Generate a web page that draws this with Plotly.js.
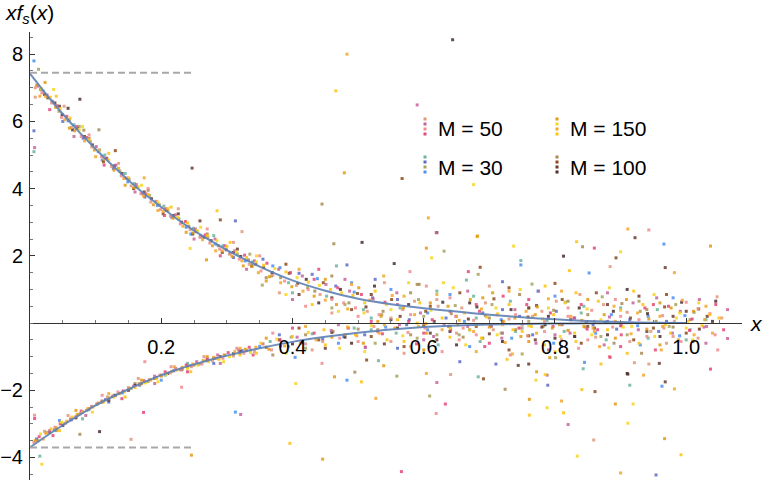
<!DOCTYPE html>
<html>
<head>
<meta charset="utf-8">
<script src="https://cdn.plot.ly/plotly-3.0.1.min.js"></script>
<style>
  html, body { margin: 0; padding: 0; background: #fff; }
  #chart { width: 763px; height: 482px; }
</style>
</head>
<body>
<div id="chart"></div>
<script>
// fitted curves
let curveX = [0, 0.025, 0.05, 0.075, 0.1, 0.125, 0.15, 0.175, 0.2, 0.225, 0.25, 0.275, 0.3, 0.35, 0.4, 0.45, 0.5, 0.55, 0.6, 0.65, 0.7, 0.75, 0.8, 0.85, 0.9, 0.95, 1.0];
let upperY = [7.42, 6.8, 6.22, 5.68, 5.18, 4.7, 4.25, 3.83, 3.45, 3.08, 2.75, 2.45, 2.17, 1.68, 1.27, 0.96, 0.72, 0.56, 0.44, 0.34, 0.25, 0.17, 0.11, 0.06, 0.03, 0.01, 0];
let lowerY = [-3.7, -3.36, -3.04, -2.74, -2.45, -2.2, -1.97, -1.75, -1.55, -1.38, -1.23, -1.09, -0.97, -0.75, -0.56, -0.41, -0.29, -0.19, -0.12, -0.075, -0.045, -0.025, -0.014, -0.007, -0.003, -0.001, 0];

// dashed limit lines
let dashX = [0, 0.25];
let topLimit = 7.45;
let bottomLimit = -3.7;

let xTicks = [0.2, 0.4, 0.6, 0.8, 1.0];
let xTickText = ['0.2', '0.4', '0.6', '0.8', '1.0'];
let yTicks = [-4, -2, 2, 4, 6, 8];
let yTickText = ['\u22124', '\u22122', '2', '4', '6', '8'];

let legendNames = ['M = 50', 'M = 150', 'M = 30', 'M = 100'];

// scatter points [x, y]
let m50 = [
  [0.008,6.72],[0.012,7.05],[0.018,6.85],[0.026,6.78],[0.033,6.55],[0.041,6.47],[0.048,6.12],[0.056,6.15],[0.063,5.82],[0.071,5.85],
  [0.078,5.55],[0.086,5.52],[0.094,5.24],[0.101,5.25],[0.109,4.95],[0.116,4.9],[0.124,4.66],[0.131,4.7],[0.139,4.38],[0.147,4.31],
  [0.154,4.08],[0.162,4.12],[0.169,3.85],[0.177,3.84],[0.184,3.6],[0.192,3.62],[0.199,3.38],[0.207,3.4],[0.214,3.18],[0.222,3.22],
  [0.229,2.95],[0.237,3.02],[0.244,2.78],[0.252,2.8],[0.259,2.55],[0.267,2.62],[0.274,2.38],[0.282,2.5],[0.289,2.2],[0.297,2.3],
  [0.304,2.05],[0.312,2.15],[0.319,1.9],[0.327,2.02],[0.334,1.75],[0.342,1.85],
  [0.352,1.55],[0.361,1.78],[0.37,1.42],[0.379,1.6],[0.388,1.25],[0.397,1.5],[0.406,1.12],[0.415,1.4],[0.424,1.0],[0.433,1.3],
  [0.442,0.85],[0.451,1.15],[0.46,0.7],[0.469,1.05],[0.478,0.6],[0.487,0.95],[0.496,0.45],[0.505,0.85],[0.514,0.35],[0.523,0.72],
  [0.532,0.25],[0.541,0.62],[0.55,0.15],[0.559,0.9],[0.568,0.4],[0.577,0.05],[0.586,0.65],[0.595,0.3],[0.604,1.1],[0.613,0.1],
  [0.622,0.5],[0.631,-0.05],[0.64,0.75],[0.649,0.2],[0.658,0.45],[0.667,0.95],[0.676,0.08],[0.685,0.35],[0.694,0.6],[0.703,-0.1],
  [0.712,0.25],[0.721,0.8],[0.73,0.12],[0.739,0.4],[0.748,-0.15],[0.757,0.55],[0.766,0.2],[0.775,0.95],[0.784,0.05],[0.793,0.3],
  [0.802,0.65],[0.811,-0.05],[0.82,0.45],[0.829,0.15],[0.838,0.85],[0.847,0.02],[0.856,0.38],[0.865,-0.2],[0.874,0.55],[0.883,0.18],
  [0.892,0.7],[0.901,-0.08],[0.91,0.32],[0.919,0.6],[0.928,0.1],[0.937,0.45],[0.946,-0.25],[0.955,0.75],[0.964,0.22],[0.973,0.5],
  [0.982,0.05],[0.991,0.35],[1.0,0.62],[1.009,0.12],[1.018,0.42],[1.027,-0.12],[1.036,0.28],[1.045,0.55],[1.054,0.15],[1.063,0.4],
  [0.006,-3.55],[0.014,-3.38],[0.022,-3.22],[0.03,-3.2],[0.038,-3.1],[0.046,-3.0],[0.054,-2.98],[0.062,-2.85],[0.07,-2.78],[0.078,-2.62],
  [0.086,-2.6],[0.094,-2.48],[0.102,-2.4],[0.11,-2.32],[0.118,-2.2],[0.126,-2.18],[0.134,-2.05],[0.142,-2.02],[0.15,-1.92],[0.158,-1.88],
  [0.166,-1.8],[0.174,-1.72],[0.182,-1.68],[0.19,-1.58],[0.198,-1.55],[0.206,-1.45],[0.214,-1.48],[0.222,-1.35],[0.23,-1.4],[0.238,-1.25],
  [0.246,-1.3],[0.254,-1.15],[0.262,-1.22],[0.27,-1.05],[0.278,-1.12],[0.286,-0.95],[0.294,-1.05],[0.302,-0.88],[0.31,-0.98],[0.318,-0.8],
  [0.326,-0.9],[0.334,-0.72],[0.342,-0.85],
  [0.355,-0.62],[0.368,-0.8],[0.381,-0.5],[0.394,-0.7],[0.407,-0.42],[0.42,-0.62],[0.433,-0.3],[0.446,-0.55],[0.459,-0.22],[0.472,-0.45],
  [0.485,-0.15],[0.498,-0.38],[0.511,-0.72],[0.524,-0.1],[0.537,-0.32],[0.55,-0.55],[0.563,-0.05],[0.576,-0.28],[0.589,-0.62],[0.602,-0.15],
  [0.615,-0.4],[0.628,-0.85],[0.641,-0.2],[0.654,-0.5],[0.667,-0.1],[0.68,-0.35],[0.693,-0.7],[0.706,-0.2],[0.719,-0.45],[0.732,-0.95],
  [0.745,-0.15],[0.758,-0.38],[0.771,-0.6],[0.784,-0.25],[0.797,-0.1],[0.81,-0.5],[0.823,-0.3],[0.836,-0.75],[0.849,-0.18],[0.862,-0.42],
  [0.875,-0.65],[0.888,-0.12],[0.901,-0.35],[0.914,-0.55],[0.927,-0.2],[0.94,-0.4],[0.953,-0.8],[0.966,-0.15],[0.979,-0.3],[0.992,-0.55],
  [1.005,-0.22],[1.018,-0.45],[1.031,-0.1],[1.044,-0.35],[1.057,-0.2],
  [0.008,7.0],[0.007,5.22],[0.007,-2.74],[0.007,-2.84],[0.323,2.72],[0.59,6.49],[0.943,2.77],[0.86,2.23],[0.884,1.68],[0.619,2.69],
  [0.579,1.53],[0.668,1.53],[1.047,0.78],[1.063,-0.46],[1.048,-0.8],[1.037,-1.37],[0.921,-1.18],[0.788,-1.55],[0.883,-1.0],[0.566,-4.42],
  [0.859,-3.48],[0.82,-3.02],[0.619,-2.69],[0.633,-2.41],[0.641,-1.53],[0.62,-1.77],[0.445,-1.2],[0.884,-1.02],[0.943,-1.22],[0.511,-0.72],
  [0.175,-1.15],[0.173,-2.66],[0.154,-3.46],[0.321,-2.72],[0.231,-1.91]
];
let m50More = [
  [0.03,6.35],[0.052,6.45],[0.067,5.55],[0.09,5.6],[0.113,4.7],[0.135,4.75],[0.16,3.9],[0.18,4.0],[0.205,3.2],[0.226,3.4],
  [0.25,2.5],[0.27,2.8],[0.29,2.0],[0.31,2.4],[0.33,1.6],[0.35,2.0],
  [0.035,-3.35],[0.058,-2.75],[0.085,-2.75],[0.11,-2.15],[0.14,-2.25],[0.165,-1.65],[0.19,-1.8],[0.215,-1.3],[0.24,-1.45],[0.265,-1.0],
  [0.29,-1.2],[0.315,-0.75],[0.34,-0.95],
  [0.38,0.9],[0.4,0.7],[0.42,0.5],[0.44,1.6],[0.46,0.3],[0.48,1.3],[0.5,0.2],[0.52,0.05],[0.54,1.2],[0.56,0.55],
  [0.58,0.25],[0.6,-0.3],[0.62,0.7],[0.64,0.35],[0.66,-0.15],[0.68,0.55],[0.7,1.1],[0.72,-0.3],[0.74,0.25],[0.76,0.7],
  [0.78,0.35],[0.8,-0.35],[0.82,0.2],[0.84,0.55],[0.86,0.05],[0.88,0.9],[0.9,0.2],[0.95,0.55],[0.98,-0.4],[1.02,0.7],
  [0.37,-0.3],[0.4,-0.15],[0.43,-0.8],[0.47,-0.05],[0.5,-0.55],[0.53,-0.25],[0.57,-0.9],[0.6,-0.5],[0.65,-0.3],[0.7,-0.6],
  [0.75,-0.05],[0.79,-0.8],[0.85,-0.5],[0.9,-0.7],[0.97,-0.6],[1.03,-0.6]
];

let m150 = [
  [0.01,7.08],[0.017,6.98],[0.024,6.74],[0.031,6.72],[0.039,6.42],[0.046,6.38],[0.053,6.05],[0.061,6.1],[0.068,5.72],[0.075,5.75],
  [0.083,5.42],[0.09,5.45],[0.098,5.15],[0.105,5.12],[0.113,4.88],[0.12,4.85],[0.128,4.55],[0.135,4.6],[0.143,4.3],[0.15,4.32],
  [0.158,4.02],[0.165,4.05],[0.173,3.78],[0.18,3.82],[0.188,3.52],[0.195,3.6],[0.203,3.32],[0.21,3.4],[0.218,3.12],[0.225,3.15],
  [0.233,2.88],[0.24,2.98],[0.248,2.68],[0.255,2.75],[0.263,2.48],[0.27,2.6],[0.278,2.3],[0.285,2.45],[0.293,2.15],[0.3,2.28],
  [0.308,1.98],[0.315,2.12],[0.323,1.85],[0.33,1.95],[0.338,1.68],[0.345,1.82],
  [0.348,1.5],[0.356,1.72],[0.365,1.38],[0.373,1.62],[0.382,1.2],[0.39,1.52],[0.399,1.08],[0.407,1.35],[0.416,0.95],[0.424,1.22],
  [0.433,0.8],[0.441,1.12],[0.45,0.68],[0.458,1.0],[0.467,0.55],[0.475,0.9],[0.484,0.42],[0.492,0.82],[0.501,1.05],[0.509,0.3],
  [0.518,0.68],[0.526,0.95],[0.535,0.2],[0.543,0.55],[0.552,0.82],[0.56,0.1],[0.569,0.45],[0.577,1.2],[0.586,0.25],[0.594,0.6],
  [0.603,-0.02],[0.611,0.38],[0.62,0.85],[0.628,0.15],[0.637,0.5],[0.645,1.05],[0.654,0.08],[0.662,0.3],[0.671,0.7],[0.679,-0.05],
  [0.688,0.42],[0.696,0.18],[0.705,0.9],[0.713,0.28],[0.722,0.05],[0.73,0.55],[0.739,0.15],[0.747,1.0],[0.756,0.35],[0.764,-0.1],
  [0.773,0.48],[0.781,0.12],[0.79,0.72],[0.798,0.25],[0.807,-0.05],[0.815,0.6],[0.824,0.2],[0.832,0.9],[0.841,0.08],[0.849,0.42],
  [0.858,-0.15],[0.866,0.65],[0.875,0.25],[0.883,1.05],[0.892,0.05],[0.9,0.38],[0.909,0.7],[0.917,-0.1],[0.926,0.3],[0.934,0.55],
  [0.943,0.12],[0.951,0.85],[0.96,0.2],[0.968,-0.05],[0.977,0.45],[0.985,0.15],[0.994,0.68],[1.002,0.05],[1.011,0.35],[1.019,0.6],
  [1.028,0.1],[1.036,0.25],
  [0.008,-3.5],[0.016,-3.3],[0.024,-3.28],[0.032,-3.15],[0.04,-3.12],[0.048,-2.95],[0.056,-2.92],[0.064,-2.8],[0.072,-2.72],[0.08,-2.65],
  [0.088,-2.55],[0.096,-2.5],[0.104,-2.38],[0.112,-2.35],[0.12,-2.22],[0.128,-2.2],[0.136,-2.1],[0.144,-2.05],[0.152,-1.95],[0.16,-1.92],
  [0.168,-1.82],[0.176,-1.78],[0.184,-1.7],[0.192,-1.65],[0.2,-1.58],[0.208,-1.52],[0.216,-1.44],[0.224,-1.4],[0.232,-1.32],[0.24,-1.35],
  [0.248,-1.22],[0.256,-1.25],[0.264,-1.12],[0.272,-1.15],[0.28,-1.02],[0.288,-1.08],[0.296,-0.95],[0.304,-1.0],[0.312,-0.85],[0.32,-0.95],
  [0.328,-0.78],[0.336,-0.88],[0.344,-0.72],
  [0.352,-0.6],[0.364,-0.78],[0.376,-0.48],[0.388,-0.68],[0.4,-0.4],[0.412,-0.6],[0.424,-0.28],[0.436,-0.5],[0.448,-0.2],[0.46,-0.42],
  [0.472,-0.75],[0.484,-0.12],[0.496,-0.35],[0.508,-0.6],[0.52,-0.08],[0.532,-0.3],[0.544,-0.5],[0.556,-0.15],[0.568,-0.38],[0.58,-0.7],
  [0.592,-0.1],[0.604,-0.3],[0.616,-0.55],[0.628,-0.2],[0.64,-0.42],[0.652,-0.05],[0.664,-0.65],[0.676,-0.25],[0.688,-0.45],[0.7,-0.12],
  [0.712,-0.35],[0.724,-0.58],[0.736,-0.2],[0.748,-0.4],[0.76,-0.08],[0.772,-0.3],[0.784,-0.65],[0.796,-0.15],[0.808,-0.4],[0.82,-0.22],
  [0.832,-0.55],[0.844,-0.1],[0.856,-0.35],[0.868,-0.7],[0.88,-0.2],[0.892,-0.45],[0.904,-0.12],[0.916,-0.32],[0.928,-0.6],[0.94,-0.18],
  [0.952,-0.4],[0.964,-0.1],[0.976,-0.3],[0.988,-0.5],[1.0,-0.15],[1.012,-0.35],[1.024,-0.08],
  [0.023,7.16],[0.036,6.95],[0.174,4.32],[0.285,3.34],[0.269,1.88],[0.244,2.22],[0.483,8.0],[0.466,6.91],[0.479,4.47],[0.676,4.12],
  [0.607,3.13],[0.681,2.57],[0.604,2.23],[0.612,1.94],[0.911,2.8],[0.833,2.42],[1.037,2.29],[0.9,2.12],[0.982,1.5],[0.822,1.56],
  [0.682,2.59],[0.737,2.29],[0.539,1.4],[0.785,1.1],[0.792,-1.03],[0.882,-0.74],[0.935,-1.55],[0.396,-3.58],[0.446,-4.05],[0.834,-3.96],
  [0.9,-4.46],[0.992,-3.92],[0.967,-3.44],[0.911,-2.98],[0.527,-2.24],[0.761,-2.74],[0.761,-2.27],[0.788,-2.52],[0.81,-2.32],[0.813,-2.67],
  [0.892,-2.41],[0.919,-2.41],[0.982,-1.96],[0.841,-1.98],[0.772,-1.45],[0.771,-1.7],[0.604,-1.5],[0.505,-1.75],[0.464,-1.6],[0.405,-1.8],
  [0.735,-0.92],[0.727,-1.08],[0.539,-1.27],[0.785,-1.53],[0.962,-0.8],[0.87,-1.22],[0.246,-3.93],[0.018,-4.2]
];
let m150More = [
  [0.015,6.75],[0.04,6.75],[0.06,5.8],[0.08,5.85],[0.1,4.95],[0.12,5.05],[0.145,4.1],[0.17,4.1],[0.195,3.35],[0.215,3.45],
  [0.238,2.7],[0.26,2.85],[0.283,2.15],[0.305,2.4],[0.325,1.7],[0.345,2.0],
  [0.02,-3.45],[0.045,-3.2],[0.07,-2.6],[0.095,-2.65],[0.12,-2.1],[0.145,-2.2],[0.17,-1.7],[0.195,-1.75],[0.22,-1.3],[0.245,-1.45],
  [0.27,-1.0],[0.295,-1.15],[0.32,-0.75],[0.345,-0.9],
  [0.36,1.25],[0.39,0.85],[0.41,1.6],[0.43,0.55],[0.45,1.3],[0.47,0.35],[0.49,1.15],[0.51,0.6],[0.53,0.05],[0.55,0.4],
  [0.57,0.8],[0.59,0.0],[0.61,0.6],[0.63,1.2],[0.65,0.2],[0.67,-0.2],[0.69,0.75],[0.71,0.45],[0.73,0.95],[0.75,-0.25],
  [0.77,0.25],[0.79,0.45],[0.81,0.95],[0.83,-0.3],[0.85,0.7],[0.87,0.1],[0.89,0.5],[0.92,0.95],[0.96,0.6],[0.99,0.3],
  [1.03,0.5],[1.05,0.15],
  [0.36,-0.45],[0.39,-0.9],[0.42,-0.1],[0.45,-0.65],[0.48,-0.35],[0.51,-0.85],[0.54,-0.05],[0.57,-0.55],[0.6,-0.8],[0.64,-0.15],
  [0.68,-0.85],[0.72,-0.05],[0.76,-0.55],[0.8,-0.85],[0.86,-0.25],[0.91,-0.9],[0.96,-0.65],[1.01,-0.5],[1.04,-0.3]
];

let m30 = [
  [0.02,6.9],[0.034,6.6],[0.044,6.3],[0.058,6.02],[0.067,5.9],[0.081,5.5],[0.092,5.4],[0.104,5.1],[0.114,5.0],[0.127,4.6],
  [0.137,4.52],[0.149,4.2],[0.159,4.15],[0.171,3.85],[0.182,3.8],[0.194,3.5],[0.204,3.48],[0.216,3.15],[0.227,3.1],[0.238,2.85],
  [0.249,2.82],[0.26,2.58],[0.271,2.55],[0.283,2.35],[0.294,2.3],[0.305,2.08],[0.316,2.05],[0.328,1.85],[0.339,1.82],
  [0.355,1.9],[0.368,1.4],[0.381,1.65],[0.394,1.2],[0.41,1.48],[0.423,1.05],[0.438,1.32],[0.452,0.8],[0.466,1.1],[0.48,0.55],
  [0.494,0.92],[0.508,0.4],[0.522,0.75],[0.536,0.25],[0.55,1.0],[0.564,0.45],[0.578,0.1],[0.592,0.7],[0.606,0.3],[0.62,0.95],
  [0.634,0.15],[0.648,0.52],[0.662,0.05],[0.676,0.8],[0.69,0.3],[0.704,0.55],[0.718,0.1],[0.732,0.65],[0.746,0.2],[0.76,0.45],
  [0.774,0.95],[0.788,0.08],[0.802,0.35],[0.816,0.62],[0.83,0.15],[0.844,0.5],[0.858,-0.05],[0.872,0.78],[0.886,0.25],[0.9,0.45],
  [0.914,0.1],[0.928,0.65],[0.942,0.2],[0.956,0.4],[0.97,0.05],[0.984,0.55],[0.998,0.22],[1.012,0.32],
  [0.01,-3.45],[0.025,-3.25],[0.037,-3.18],[0.05,-3.0],[0.063,-2.88],[0.076,-2.7],[0.089,-2.58],[0.102,-2.42],[0.115,-2.28],[0.128,-2.15],
  [0.141,-2.08],[0.154,-1.95],[0.167,-1.85],[0.18,-1.74],[0.193,-1.62],[0.206,-1.55],[0.219,-1.42],[0.232,-1.38],[0.245,-1.27],[0.258,-1.22],
  [0.271,-1.1],[0.284,-1.05],[0.297,-0.96],[0.31,-0.92],[0.323,-0.82],[0.336,-0.8],
  [0.35,-0.7],[0.366,-0.55],[0.382,-0.68],[0.398,-0.42],[0.414,-0.58],[0.43,-0.32],[0.446,-0.48],[0.462,-0.25],[0.478,-0.4],[0.494,-0.15],
  [0.51,-0.35],[0.526,-0.6],[0.542,-0.12],[0.558,-0.3],[0.574,-0.05],[0.59,-0.45],[0.606,-0.2],[0.622,-0.65],[0.638,-0.1],[0.654,-0.35],
  [0.67,-0.2],[0.686,-0.55],[0.702,-0.08],[0.718,-0.3],[0.734,-0.45],[0.75,-0.15],[0.766,-0.35],[0.782,-0.1],[0.798,-0.6],[0.814,-0.25],
  [0.83,-0.4],[0.846,-0.12],[0.862,-0.3],[0.878,-0.5],[0.894,-0.18],[0.91,-0.35],[0.926,-0.08],[0.942,-0.45],[0.958,-0.25],[0.974,-0.1],
  [0.99,-0.38],[1.006,-0.2],
  [0.006,5.72],[0.013,7.55],[0.006,7.8],[0.006,5.1],[0.313,3.04],[0.631,2.14],[0.966,2.35],[0.665,1.28],[0.72,1.23],[0.765,1.16],
  [0.748,1.73],[0.748,1.86],[0.526,1.3],[0.683,1.45],[0.852,1.49],[0.467,1.7],[0.483,1.73],[0.354,1.13],[0.404,-1.02],[0.843,-1.36],
  [0.954,-4.52],[0.609,-2.17],[0.963,-1.88],[0.914,-1.85],[0.789,-1.85],[0.559,-1.58],[0.483,-1.7],[0.683,-1.6],[0.71,-1.22],[0.801,-1.03],
  [0.845,-1.17],[0.531,-1.12],[0.655,-1.15],[0.75,-0.92],[0.313,-2.65],[0.015,-3.96]
];
let m30More = [
  [0.05,6.0],[0.075,5.85],[0.11,4.85],[0.145,4.45],[0.175,3.75],[0.21,3.35],[0.245,2.65],[0.28,2.6],[0.31,1.95],[0.335,2.05],
  [0.045,-2.9],[0.08,-2.85],[0.12,-2.35],[0.16,-1.8],[0.2,-1.7],[0.24,-1.2],[0.28,-1.2],[0.32,-0.9],
  [0.37,1.7],[0.4,0.9],[0.43,1.45],[0.46,0.45],[0.49,1.2],[0.52,0.15],[0.56,0.7],[0.6,0.2],[0.64,0.85],[0.68,0.15],
  [0.72,0.4],[0.76,0.05],[0.8,0.8],[0.84,0.3],[0.88,0.05],[0.93,0.35],[0.98,0.75],[1.03,0.1],
  [0.38,-0.35],[0.42,-0.75],[0.47,-0.6],[0.52,-0.2],[0.56,-0.75],[0.62,-0.35],[0.67,-0.7],[0.74,-0.25],[0.81,-0.7],[0.87,-0.4],
  [0.93,-0.65],[1.0,-0.5]
];

let m100 = [
  [0.016,6.95],[0.027,6.7],[0.038,6.55],[0.049,6.2],[0.06,6.05],[0.072,5.8],[0.083,5.55],[0.095,5.3],[0.106,5.15],[0.117,4.9],
  [0.129,4.68],[0.14,4.45],[0.151,4.28],[0.163,4.05],[0.174,3.9],[0.185,3.7],[0.197,3.52],[0.208,3.35],[0.219,3.2],[0.231,3.0],
  [0.242,2.88],[0.253,2.72],[0.265,2.55],[0.276,2.45],[0.287,2.3],[0.299,2.18],[0.31,2.1],[0.321,1.98],[0.333,1.88],[0.344,1.75],
  [0.356,1.65],[0.369,1.5],[0.382,1.35],[0.395,1.48],[0.408,1.18],[0.421,1.3],[0.434,0.95],[0.447,1.2],[0.46,0.75],[0.473,1.0],
  [0.486,0.6],[0.499,0.88],[0.512,0.48],[0.525,1.1],[0.538,0.35],[0.551,0.7],[0.564,0.2],[0.577,0.55],[0.59,1.15],[0.603,0.35],
  [0.616,0.05],[0.629,0.62],[0.642,0.28],[0.655,0.9],[0.668,0.12],[0.681,0.48],[0.694,0.22],[0.707,0.72],[0.72,0.05],[0.733,0.4],
  [0.746,0.85],[0.759,0.18],[0.772,0.52],[0.785,-0.05],[0.798,0.38],[0.811,0.7],[0.824,0.1],[0.837,0.45],[0.85,0.25],[0.863,0.9],
  [0.876,0.02],[0.889,0.35],[0.902,0.58],[0.915,0.15],[0.928,0.8],[0.941,0.28],[0.954,0.05],[0.967,0.48],[0.98,0.2],[0.993,0.62],
  [1.006,0.1],[1.019,0.42],[1.032,0.2],[1.045,0.65],
  [0.012,-3.5],[0.03,-3.25],[0.05,-3.05],[0.07,-2.82],[0.09,-2.55],[0.11,-2.35],[0.13,-2.15],[0.15,-2.0],[0.17,-1.8],[0.19,-1.65],
  [0.21,-1.5],[0.23,-1.38],[0.25,-1.25],[0.27,-1.12],[0.29,-1.0],[0.31,-0.92],[0.33,-0.82],
  [0.36,-0.72],[0.38,-0.5],[0.4,-0.62],[0.42,-0.35],[0.44,-0.5],[0.46,-0.28],[0.48,-0.42],[0.5,-0.18],[0.52,-0.4],[0.54,-0.62],
  [0.56,-0.15],[0.58,-0.35],[0.6,-0.08],[0.62,-0.5],[0.64,-0.25],[0.66,-0.42],[0.68,-0.1],[0.7,-0.32],[0.72,-0.55],[0.74,-0.2],
  [0.76,-0.38],[0.78,-0.12],[0.8,-0.45],[0.82,-0.22],[0.84,-0.6],[0.86,-0.15],[0.88,-0.35],[0.9,-0.08],[0.92,-0.5],[0.94,-0.25],
  [0.96,-0.4],[0.98,-0.12],[1.0,-0.3],[1.02,-0.18],
  [0.076,6.66],[0.105,5.75],[0.13,5.13],[0.247,4.61],[0.058,6.39],[0.082,5.74],[0.29,3.07],[0.259,3.04],[0.644,8.43],[0.445,3.54],
  [0.567,4.3],[0.62,2.69],[0.506,2.4],[0.463,2.36],[0.686,1.66],[0.922,2.54],[0.813,1.99],[0.842,2.27],[0.893,1.94],[0.968,1.65],
  [0.555,1.77],[0.593,1.15],[0.8,1.18],[0.959,-1.2],[0.911,-1.52],[0.724,-1.97],[0.861,-2.04],[0.968,-1.75],[0.91,-1.5],[0.495,-1.46],
  [0.691,-1.66],[0.744,-1.26],[0.82,-1.0],[0.932,-0.9],[0.513,-1.1],[0.76,-1.22],[0.106,-3.23],[0.076,-3.31]
];
let m100More = [
  [0.022,6.8],[0.045,6.45],[0.065,5.75],[0.09,5.5],[0.112,4.8],[0.135,4.6],[0.158,4.0],[0.18,3.95],[0.203,3.25],[0.226,3.25],
  [0.248,2.65],[0.27,2.65],[0.293,2.1],[0.316,2.2],[0.338,1.7],
  [0.04,-3.2],[0.08,-2.65],[0.12,-2.3],[0.16,-1.85],[0.2,-1.55],[0.24,-1.3],[0.28,-1.05],[0.32,-0.85],
  [0.36,1.35],[0.39,1.75],[0.41,0.85],[0.44,0.6],[0.46,1.4],[0.49,0.4],[0.52,0.85],[0.55,0.1],[0.58,0.9],[0.61,0.5],
  [0.64,-0.1],[0.67,0.6],[0.7,0.15],[0.73,1.05],[0.76,0.45],[0.79,0.2],[0.82,0.65],[0.85,-0.1],[0.88,0.55],[0.91,1.0],
  [0.94,0.4],[0.97,0.85],[1.0,0.35],[1.04,0.05],
  [0.37,-0.95],[0.41,-0.15],[0.45,-0.75],[0.49,-0.6],[0.53,-0.2],[0.57,-0.7],[0.61,-0.3],[0.65,-0.65],[0.69,-0.45],[0.73,-0.8],
  [0.77,-0.5],[0.83,-0.4],[0.89,-0.6],[0.95,-0.15],[1.01,-0.55]
];

// four shades per group, as in the legend swatches
let m50Colors = ['#e2967c', '#c4649c', '#f28a8c', '#e6457a'];
let m150Colors = ['#e29a12', '#f7d51e', '#f4a62a', '#ffc20e'];
let m30Colors = ['#6ab49a', '#5a6cc6', '#a6a35c', '#4a8ff2'];
let m100Colors = ['#a88b52', '#8c4a1e', '#6b3b2b', '#4b2e2e'];

// plot area in pixels: left 30, right 742, top 32, bottom 480
function px2paperX(px) { return (px - 30) / 712; }
function px2paperY(py) { return (480 - py) / 448; }

function pointsTrace(points, colors) {
  return {
    x: points.map(p => p[0]),
    y: points.map(p => p[1]),
    type: 'scatter',
    mode: 'markers',
    marker: {
      symbol: 'square',
      size: 3,
      opacity: 0.85,
      color: points.map((p, i) => colors[i % colors.length])
    },
    hoverinfo: 'skip',
    showlegend: false
  };
}

function lineTrace(x, y, color, dash) {
  return {
    x: x,
    y: y,
    type: 'scatter',
    mode: 'lines',
    line: { color: color, width: 2, dash: dash, shape: 'spline', smoothing: 0.6 },
    hoverinfo: 'skip',
    showlegend: false
  };
}

function plotChart() {
  let traces = [
    pointsTrace(m30.concat(m30More), m30Colors),
    pointsTrace(m100.concat(m100More), m100Colors),
    pointsTrace(m50.concat(m50More), m50Colors),
    pointsTrace(m150.concat(m150More), m150Colors),
    lineTrace(curveX, upperY, 'rgba(94,129,181,0.9)', 'solid'),
    lineTrace(curveX, lowerY, 'rgba(94,129,181,0.9)', 'solid'),
    lineTrace(dashX, [topLimit, topLimit], '#a8a8a8', '7px,4px'),
    lineTrace(dashX, [bottomLimit, bottomLimit], '#a8a8a8', '7px,4px')
  ];

  // legend: swatch columns and labels
  let legendSpots = [
    { px: 425, py: 129, colors: m50Colors },
    { px: 557, py: 129, colors: m150Colors },
    { px: 425, py: 167, colors: m30Colors },
    { px: 557, py: 167, colors: m100Colors }
  ];
  let shapes = [];
  let annotations = [];
  legendSpots.forEach((spot, k) => {
    spot.colors.forEach((c, j) => {
      let cy = spot.py - 10 + j * 5;
      shapes.push({
        type: 'rect', xref: 'paper', yref: 'paper',
        x0: px2paperX(spot.px - 1.5), x1: px2paperX(spot.px + 1.5),
        y0: px2paperY(cy + 1.5), y1: px2paperY(cy - 1.5),
        fillcolor: c, line: { width: 0 }
      });
    });
    annotations.push({
      xref: 'paper', yref: 'paper',
      x: px2paperX(spot.px + 11), y: px2paperY(spot.py),
      xanchor: 'left', yanchor: 'middle',
      text: legendNames[k], showarrow: false,
      font: { family: 'Liberation Sans, Arial, sans-serif', size: 21, color: '#000' }
    });
  });

  annotations.push({
    xref: 'paper', yref: 'paper',
    x: px2paperX(29), y: px2paperY(14),
    xanchor: 'center', yanchor: 'middle',
    text: '<i>xf</i><sub><i>s</i></sub>(<i>x</i>)', showarrow: false,
    font: { family: 'Liberation Sans, Arial, sans-serif', size: 21, color: '#000' }
  });
  annotations.push({
    xref: 'paper', yref: 'y',
    x: px2paperX(757), y: 0,
    xanchor: 'center', yanchor: 'middle',
    text: '<i>x</i>', showarrow: false,
    font: { family: 'Liberation Sans, Arial, sans-serif', size: 21, color: '#000' }
  });

  let yRange = [-4.67, 8.66];

  let layout = {
    width: 763,
    height: 482,
    margin: { l: 30, r: 21, t: 32, b: 2 },
    paper_bgcolor: '#fff',
    plot_bgcolor: '#fff',
    font: { family: 'Liberation Sans, Arial, sans-serif', size: 20, color: '#000' },
    xaxis: {
      range: [0, 1.085],
      anchor: 'free',
      position: (0 - yRange[0]) / (yRange[1] - yRange[0]),
      showgrid: false,
      zeroline: false,
      showline: true,
      linecolor: '#333',
      linewidth: 1,
      ticks: 'inside',
      ticklen: 5,
      tickcolor: '#333',
      tickvals: xTicks,
      ticktext: xTickText,
      ticklabelstandoff: 6,
      minor: { tickmode: 'linear', tick0: 0, dtick: 0.05, ticks: 'inside', ticklen: 3, tickcolor: '#777' }
    },
    yaxis: {
      range: yRange,
      showgrid: false,
      zeroline: false,
      showline: true,
      linecolor: '#333',
      linewidth: 1,
      ticks: 'inside',
      ticklen: 5,
      tickcolor: '#333',
      tickvals: yTicks,
      ticktext: yTickText,
      ticklabelstandoff: 2,
      minor: { tickmode: 'linear', tick0: 0, dtick: 0.5, ticks: 'inside', ticklen: 3, tickcolor: '#777' }
    },
    shapes: shapes,
    annotations: annotations,
    showlegend: false
  };

  Plotly.newPlot('chart', traces, layout, { staticPlot: true, displayModeBar: false });
}

plotChart();
</script>
</body>
</html>
